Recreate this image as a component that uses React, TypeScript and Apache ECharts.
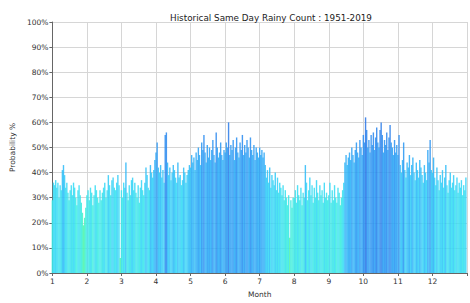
import React, { useEffect, useRef } from "react";
import * as echarts from "echarts";

const TITLE = "Historical Same Day Rainy Count : 1951-2019";
const MONTH_TICKS = [1, 2, 3, 4, 5, 6, 7, 8, 9, 10, 11, 12];
const Y_TICKS = [0, 10, 20, 30, 40, 50, 60, 70, 80, 90, 100];

const jan = [29, 36, 35, 37, 34, 36, 30, 35, 33, 41, 43, 39, 34, 36, 32, 29, 33, 35, 31, 36, 34, 30, 27, 33, 35, 31, 28, 24, 19, 22, 26];
const feb = [31, 33, 29, 34, 32, 27, 31, 35, 33, 30, 28, 33, 29, 32, 34, 36, 30, 33, 39, 35, 31, 37, 38, 34, 33, 36, 39, 35, 6];
const mar = [33, 30, 36, 34, 44, 32, 29, 35, 31, 37, 38, 33, 36, 32, 30, 35, 28, 34, 37, 33, 31, 36, 42, 39, 34, 33, 43, 40, 38, 41, 45];
const apr = [48, 52, 42, 40, 43, 38, 41, 36, 55, 56, 44, 39, 42, 37, 40, 43, 41, 38, 36, 44, 38, 39, 35, 37, 42, 40, 36, 39, 41, 43];
const may = [42, 47, 44, 46, 41, 48, 45, 50, 47, 43, 52, 49, 55, 48, 44, 51, 46, 50, 45, 49, 53, 47, 44, 56, 50, 46, 48, 52, 47, 45, 49];
const jun = [48, 52, 50, 60, 47, 51, 49, 53, 45, 50, 54, 48, 46, 52, 49, 55, 47, 51, 48, 53, 50, 46, 54, 49, 47, 51, 45, 50, 48, 46];
const jul = [50, 47, 49, 46, 48, 43, 38, 41, 36, 42, 34, 39, 37, 35, 40, 33, 38, 32, 36, 34, 31, 35, 29, 33, 30, 27, 31, 14, 29, 26, 30];
const aug = [30, 33, 28, 35, 31, 29, 34, 27, 32, 30, 43, 36, 29, 33, 38, 31, 35, 28, 34, 30, 37, 32, 29, 35, 31, 33, 28, 36, 30, 32, 29];
const sep = [31, 36, 28, 33, 29, 35, 30, 28, 34, 32, 27, 30, 33, 36, 44, 47, 43, 46, 48, 45, 50, 47, 44, 49, 52, 48, 46, 53, 50, 47];
const oct = [55, 52, 62, 57, 50, 53, 48, 55, 51, 56, 49, 54, 58, 52, 50, 57, 60, 55, 48, 53, 51, 56, 49, 54, 59, 52, 50, 47, 53, 48, 51];
const nov = [47, 55, 43, 40, 45, 52, 41, 38, 44, 42, 47, 39, 43, 46, 40, 37, 44, 41, 38, 45, 42, 39, 36, 43, 40, 37, 49, 44, 53, 41];
const dec = [40, 46, 38, 35, 42, 37, 33, 39, 36, 41, 34, 38, 43, 35, 32, 37, 40, 34, 36, 39, 33, 35, 38, 32, 36, 34, 37, 31, 35, 33, 38];

const MONTHS = [jan, feb, mar, apr, may, jun, jul, aug, sep, oct, nov, dec];

export default function App() {
  const ref = useRef<HTMLDivElement>(null);
  useEffect(() => {
    if (!ref.current) return;
    const chart = echarts.init(ref.current, null, { renderer: "svg" });
    const data: [number, number][] = [];
    MONTHS.forEach((vals, mi) => {
      vals.forEach((v, di) => {
        data.push([mi + 1 + di / vals.length, v]);
      });
    });
    const font = "DejaVu Sans";
    chart.setOption({
      animation: false,
      backgroundColor: "#ffffff",
      title: {
        text: TITLE,
        left: 266,
        top: 8,
        textAlign: "center",
        textStyle: { fontFamily: font, fontSize: 8.8, fontWeight: "normal", color: "#222" },
      },
      grid: { left: 52, top: 22, width: 433, height: 255 },
      visualMap: {
        show: false,
        seriesIndex: 0,
        dimension: 1,
        min: 18,
        max: 62,
        inRange: { color: ["#52f5a6", "#40f0dc", "#38dcf6", "#30b6f8", "#2d93f2", "#2f78e6"] },
      },
      xAxis: {
        type: "value",
        min: 1,
        max: 13,
        interval: 1,
        name: "Month",
        nameLocation: "middle",
        nameGap: 17,
        nameTextStyle: { fontFamily: font, fontSize: 7.5, color: "#333" },
        axisLine: { show: true, lineStyle: { color: "#666", width: 1 } },
        axisTick: { show: true, length: 3, lineStyle: { color: "#666" } },
        axisLabel: {
          fontFamily: font,
          fontSize: 7.5,
          color: "#333",
          margin: 4,
          formatter: (v: number) => (MONTH_TICKS.includes(v) ? String(v) : ""),
        },
        splitLine: { show: true, lineStyle: { color: "#d6d6d6", width: 1 } },
      },
      yAxis: {
        type: "value",
        min: Y_TICKS[0],
        max: Y_TICKS[Y_TICKS.length - 1],
        interval: 10,
        name: "Probability %",
        nameLocation: "middle",
        nameGap: 28,
        nameTextStyle: { fontFamily: font, fontSize: 7.5, color: "#333" },
        axisLine: { show: true, lineStyle: { color: "#666", width: 1 } },
        axisTick: { show: true, length: 3, lineStyle: { color: "#666" } },
        axisLabel: { fontFamily: font, fontSize: 7.5, color: "#333", margin: 4, formatter: "{value}%" },
        splitLine: { show: true, lineStyle: { color: "#d6d6d6", width: 1 } },
      },
      series: [
        {
          type: "bar",
          data,
          barWidth: 1.4,
          itemStyle: { opacity: 0.88 },
          z: 3,
        },
      ],
    });
    return () => chart.dispose();
  }, []);
  return (
    <div
      ref={ref}
      style={{ position: "fixed", left: 0, top: 0, width: 470, height: 303, background: "#fff" }}
    />
  );
}
